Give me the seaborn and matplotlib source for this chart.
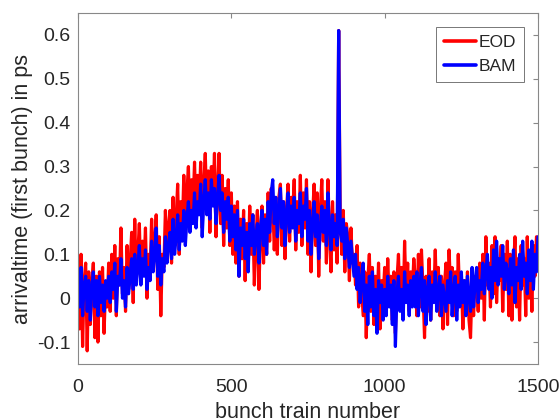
import numpy as np
import pandas as pd
import matplotlib
matplotlib.use("Agg")
import matplotlib.pyplot as plt
import seaborn as sns

step = 5

bam = [0.06, -0.02, 0.07, -0.04, 0.03, 0.05, -0.03, 0.04, -0.05, 0.02, 0.06, -0.02, 0.04, -0.04, 0.05, -0.01, 0.03, -0.03, 0.04, 0.0,
       0.05, -0.01, 0.06, 0.02, 0.08, -0.03, 0.05, 0.03, 0.09, 0.0, 0.04, -0.02, 0.07, 0.01, 0.05, 0.09, 0.02, 0.1, 0.03, 0.07,
       0.12, 0.03, 0.09, 0.05, 0.11, 0.02, 0.07, 0.04, 0.13, 0.06, 0.1, 0.16, 0.05, 0.12, 0.03, 0.09, 0.06, 0.14, 0.08, 0.12,
       0.15, 0.09, 0.18, 0.1, 0.14, 0.19, 0.11, 0.17, 0.13, 0.2, 0.12, 0.18, 0.22, 0.15, 0.2, 0.17, 0.24, 0.16, 0.22, 0.19,
       0.26, 0.14, 0.22, 0.27, 0.19, 0.24, 0.18, 0.27, 0.21, 0.25, 0.17, 0.23, 0.28, 0.2, 0.24, 0.15, 0.22, 0.18, 0.23, 0.13,
       0.21, 0.14, 0.19, 0.11, 0.2, 0.05, 0.16, 0.12, 0.18, 0.09, 0.15, 0.06, 0.17, 0.12, 0.19, 0.1, 0.14, 0.17, 0.08, 0.16,
       0.2, 0.12, 0.18, 0.1, 0.22, 0.15, 0.24, 0.27, 0.17, 0.23, 0.14, 0.2, 0.25, 0.16, 0.22, 0.12, 0.19, 0.24, 0.15, 0.21,
       0.16, 0.23, 0.13, 0.2, 0.17, 0.24, 0.14, 0.21, 0.18, 0.25, 0.13, 0.2, 0.1, 0.17, 0.22, 0.14, 0.19, 0.09, 0.16, 0.21,
       0.15, 0.2, 0.12, 0.24, 0.16, 0.11, 0.19, 0.14, 0.17, 0.12, 0.61, 0.15, 0.13, 0.18, 0.09, 0.16, 0.12, 0.07, 0.13, 0.09,
       0.05, 0.1, 0.02, 0.07, -0.01, 0.04, 0.08, -0.03, 0.03, -0.06, 0.05, -0.02, 0.06, -0.04, 0.02, -0.08, 0.04, -0.01, 0.03, -0.05,
       0.02, -0.04, 0.05, -0.02, 0.03, -0.06, 0.04, -0.11, 0.01, 0.05, -0.03, 0.02, -0.05, 0.06, -0.01, 0.03, -0.04, 0.04, -0.02, 0.05,
       -0.02, 0.06, -0.04, 0.03, 0.07, -0.03, 0.04, -0.06, 0.02, 0.05, -0.05, 0.03, -0.01, 0.06, -0.03, 0.02, 0.05, -0.04, 0.03, 0.0,
       -0.03, 0.04, -0.01, 0.06, -0.04, 0.02, 0.05, -0.05, 0.03, -0.02, 0.06, -0.01, 0.04, -0.04, 0.05, 0.0, -0.03, 0.07, -0.02, 0.04,
       0.07, -0.01, 0.04, 0.02, 0.08, 0.01, 0.06, 0.1, 0.02, 0.07, 0.0, 0.11, 0.04, 0.13, 0.03, 0.09, 0.05, 0.12, 0.02, 0.08,
       0.06, 0.01, 0.09, 0.03, 0.11, -0.01, 0.07, 0.04, 0.1, 0.02, 0.13, 0.05, 0.08, 0.01, 0.11, 0.04, 0.13, 0.02, 0.1, 0.06,
       0.14]

eod = [0.09, -0.07, 0.1, -0.11, 0.04, 0.08, -0.12, 0.06, -0.06, 0.03, 0.08, -0.09, 0.05, -0.1, 0.06, -0.04, 0.07, -0.08, 0.03, -0.02,
       0.08, -0.03, 0.1, 0.0, 0.12, -0.04, 0.09, 0.03, 0.16, 0.01, 0.07, -0.03, 0.12, 0.02, 0.08, 0.15, -0.01, 0.18, 0.04, 0.1,
       0.17, 0.04, 0.13, 0.07, 0.16, 0.0, 0.1, 0.05, 0.18, 0.09, 0.12, 0.19, 0.02, 0.14, -0.04, 0.1, 0.07, 0.2, 0.11, 0.16,
       0.2, 0.08, 0.23, 0.12, 0.18, 0.26, 0.1, 0.22, 0.15, 0.28, 0.14, 0.24, 0.3, 0.17, 0.27, 0.2, 0.31, 0.18, 0.28, 0.21,
       0.31, 0.16, 0.26, 0.33, 0.2, 0.29, 0.15, 0.3, 0.22, 0.33, 0.14, 0.25, 0.33, 0.17, 0.28, 0.12, 0.25, 0.16, 0.27, 0.12,
       0.24, 0.1, 0.21, 0.08, 0.22, 0.05, 0.18, 0.09, 0.2, 0.04, 0.17, 0.07, 0.21, 0.1, 0.19, 0.03, 0.13, 0.2, 0.02, 0.15,
       0.21, 0.08, 0.19, 0.1, 0.24, 0.13, 0.25, 0.22, 0.11, 0.2, 0.1, 0.23, 0.26, 0.12, 0.22, 0.09, 0.2, 0.26, 0.13, 0.23,
       0.19, 0.27, 0.11, 0.22, 0.15, 0.28, 0.12, 0.24, 0.16, 0.27, 0.1, 0.22, 0.06, 0.19, 0.26, 0.12, 0.24, 0.05, 0.2, 0.27,
       0.13, 0.22, 0.08, 0.27, 0.15, 0.06, 0.22, 0.11, 0.19, 0.08, 0.61, 0.19, 0.1, 0.2, 0.06, 0.17, 0.14, 0.04, 0.16, 0.08,
       0.1, 0.03, 0.12, -0.02, 0.08, 0.02, -0.04, 0.06, -0.09, 0.04, 0.1, -0.03, 0.07, -0.06, 0.05, -0.02, 0.08, -0.07, 0.04, 0.0,
       0.07, -0.03, 0.09, -0.01, 0.05, -0.05, 0.06, -0.08, 0.04, 0.1, -0.02, 0.07, -0.04, 0.13, 0.0, 0.08, -0.03, 0.06, 0.01, 0.09,
       0.04, -0.04, 0.1, -0.02, 0.11, 0.02, -0.09, 0.05, -0.03, 0.09, -0.05, 0.06, 0.0, 0.11, -0.02, 0.07, -0.04, 0.05, -0.07, 0.03,
       0.08, -0.06, 0.11, 0.02, 0.07, -0.04, 0.06, -0.03, 0.1, -0.01, 0.05, -0.07, 0.04, -0.02, 0.06, -0.05, -0.09, 0.03, -0.04, 0.05,
       0.04, -0.03, 0.08, 0.0, 0.1, -0.05, 0.14, 0.03, 0.08, -0.02, 0.12, 0.01, 0.14, -0.01, 0.09, 0.04, 0.12, -0.03, 0.1, 0.02,
       0.13, -0.04, 0.1, -0.05, 0.07, 0.14, -0.02, 0.09, -0.05, 0.12, 0.03, 0.09, -0.04, 0.14, 0.0, 0.1, -0.03, 0.12, 0.05, 0.14,
       0.13]

series_names = ["EOD", "BAM"]
series_colors = ["#ff0000", "#0000ff"]
x_ticks = [0, 500, 1000, 1500]
y_ticks = [-0.1, 0, 0.1, 0.2, 0.3, 0.4, 0.5, 0.6]
y_tick_labels = ["-0.1", "0", "0.1", "0.2", "0.3", "0.4", "0.5", "0.6"]

bunch_eod = list(np.arange(len(eod)) * step)
bunch_bam = list(np.arange(len(bam)) * step)

df = pd.DataFrame({
    "bunch": bunch_eod + bunch_bam,
    "value": eod + bam,
    "series": ["EOD"] * len(eod) + ["BAM"] * len(bam),
})

sns.set_style("white")
plt.rcParams["font.family"] = ["Liberation Sans", "DejaVu Sans"]

fig = plt.figure(figsize=(5.6, 4.2), dpi=100)
ax = fig.add_axes([78 / 560, 1 - 364 / 420, (538 - 78) / 560, (364 - 13) / 420])

sns.lineplot(data=df, x="bunch", y="value", hue="series",
             hue_order=series_names, palette=dict(zip(series_names, series_colors)),
             estimator=None, linewidth=2.3, ax=ax, sort=False)

ax.set_xlim(0, 1500)
ax.set_ylim(-0.15, 0.65)
ax.set_xticks(x_ticks)
ax.set_yticks(y_ticks)
ax.set_yticklabels(y_tick_labels)

txtc = "#262626"
for s in ax.spines.values():
    s.set_visible(True)
    s.set_color("#888888")
    s.set_linewidth(0.8)
ax.tick_params(direction="in", length=3.5, width=0.8, color="#888888",
               top=True, right=True, labelsize=14, labelcolor=txtc)
ax.tick_params(axis="x", pad=11)
ax.tick_params(axis="y", pad=5.5)

ax.set_xlabel("bunch train number", fontsize=15.5, color=txtc, labelpad=4)
ax.set_ylabel("arrivaltime (first bunch) in ps", fontsize=15.5, color=txtc, labelpad=3)

leg = ax.legend(loc="upper right", fontsize=12.5, frameon=True, fancybox=False,
                handlelength=1.85, handletextpad=0.15, borderpad=0.45,
                labelspacing=0.5, borderaxespad=0.8)
leg.get_frame().set_edgecolor("#555555")
leg.get_frame().set_linewidth(0.7)
for line in leg.get_lines():
    line.set_linewidth(2.6)

fig.savefig("out.png", dpi=100)
